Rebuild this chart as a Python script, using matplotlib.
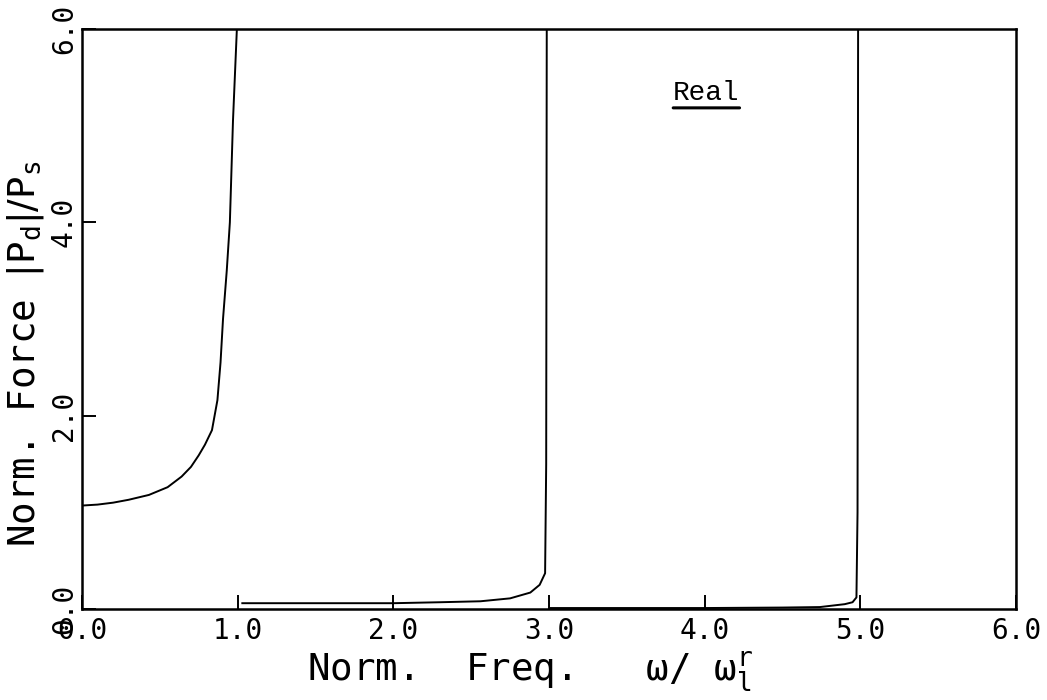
import matplotlib
matplotlib.use("Agg")
import matplotlib.pyplot as plt

# values (Real part of normalised force)
freq_a = [0.0, 0.1, 0.2, 0.3, 0.43, 0.55, 0.64, 0.70, 0.75, 0.79, 0.835, 0.87, 0.89,
          0.906, 0.93, 0.95, 0.97, 0.995, 1.0]
force_a = [1.07, 1.08, 1.10, 1.13, 1.18, 1.26, 1.37, 1.47, 1.59, 1.70, 1.85, 2.16, 2.55,
           3.0, 3.5, 4.0, 5.05, 6.0, 6.3]

freq_b = [1.03, 1.5, 2.0, 2.3, 2.56, 2.75, 2.88, 2.94, 2.975, 2.982, 2.986]
force_b = [0.06, 0.06, 0.06, 0.07, 0.08, 0.11, 0.17, 0.25, 0.37, 1.5, 6.5]

freq_c = [3.01, 3.5, 4.0, 4.5, 4.74, 4.9, 4.95, 4.975, 4.982, 4.986]
force_c = [0.01, 0.01, 0.01, 0.015, 0.02, 0.05, 0.07, 0.12, 1.0, 6.5]

ticks = [0, 1, 2, 3, 4, 5, 6]
tick_labels = ["0.0", "1.0", "2.0", "3.0", "4.0", "5.0", "6.0"]

plt.rcParams['font.family'] = ['DejaVu Sans Mono', 'DejaVu Sans']
plt.rcParams['mathtext.fontset'] = 'dejavusans'

fig = plt.figure(figsize=(10.47, 7.0), dpi=100)
ax = fig.add_axes([0.0783, 0.13, 0.8921, 0.8286])

for xs, ys in [(freq_a, force_a), (freq_b, force_b), (freq_c, force_c)]:
    ax.plot(xs, ys, color='black', linewidth=1.4)

ax.set_xlim(0, 6)
ax.set_ylim(0, 6)
ax.set_xticks(ticks)
ax.set_xticklabels(tick_labels)
ax.set_yticks(ticks[::2])
ax.set_yticklabels(tick_labels[::2], rotation=90, va='center')

ax.tick_params(direction='in', length=10, width=1.4, labelsize=20, pad=6)
ax.tick_params(axis='y', pad=3)
for s in ax.spines.values():
    s.set_linewidth(1.8)

ax.set_xlabel(r"Norm.  Freq.   ω/ ω$_{\mathtt{l}}^{\mathtt{r}}$", fontsize=27)
ax.set_ylabel(r"Norm. Force $|\mathtt{P}_{\mathtt{d}}|/\mathtt{P}_{\mathtt{s}}$", fontsize=27)
ax.xaxis.set_label_coords(0.48, -0.07)
ax.yaxis.set_label_coords(-0.038, 0.44)

# "Real" label with underline
ax.text(0.632, 0.878, "Real", transform=ax.transAxes, fontsize=20, family='Liberation Mono')
ax.annotate("", xy=(0.707, 0.864), xytext=(0.630, 0.864), xycoords='axes fraction',
            arrowprops=dict(arrowstyle='-', lw=2.2, color='black'))

fig.savefig("out.png", dpi=100)
